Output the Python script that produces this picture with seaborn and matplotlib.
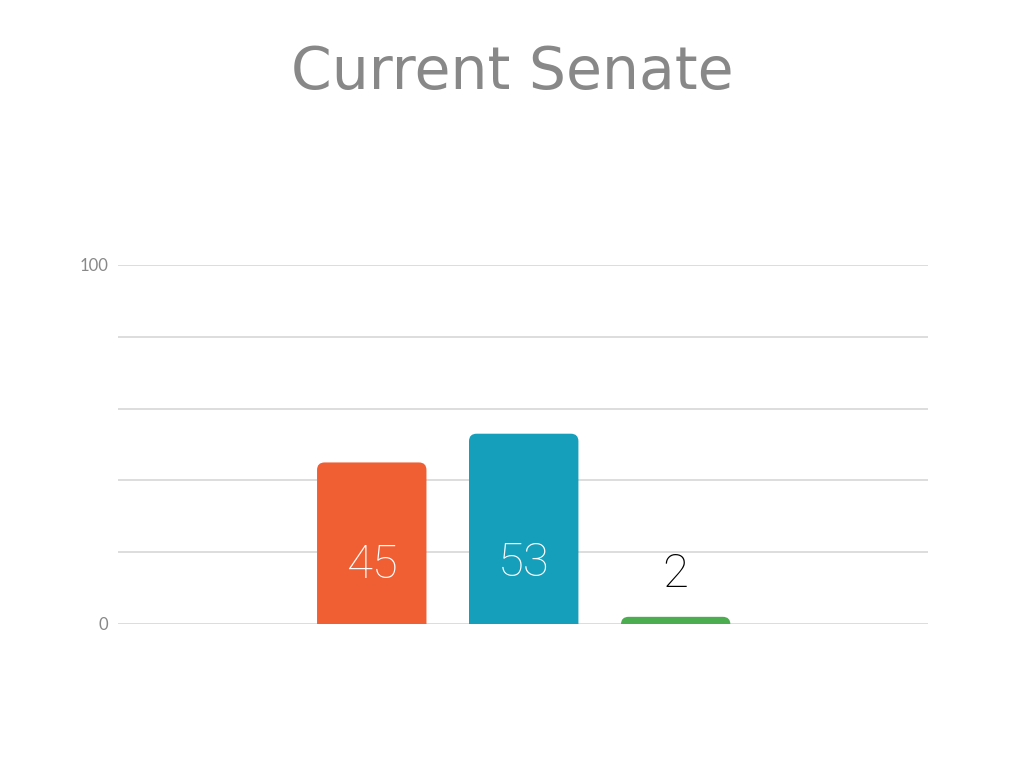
import matplotlib
matplotlib.use("Agg")
import matplotlib.pyplot as plt
import seaborn as sns
import pandas as pd
from matplotlib.patches import FancyBboxPatch

# data
parties = ["Democrats", "Republicans", "Independents"]
seats = [45, 53, 2]
colors = ["#F05F34", "#159FBB", "#4BAD4F"]
label_colors = ["white", "white", "black"]
label_y = [16.5, 17, 14]

sns.set_theme(style="white")
plt.rcParams['font.family'] = ['Lato', 'DejaVu Sans']

df = pd.DataFrame({"party": parties, "seats": seats})

fig = plt.figure(figsize=(10.24, 7.68), dpi=100)
ax = fig.add_axes([0.1152, 0.1875, 0.791, 0.4675])

sns.barplot(data=df, x="party", y="seats", hue="party", palette=colors,
            width=0.72, legend=False, ax=ax, saturation=1)

# swap plain bars for ones with rounded tops
rad_x = 0.05
aspect = 42
for patch, c in zip(list(ax.patches), colors):
    x0, w, h = patch.get_x(), patch.get_width(), patch.get_height()
    patch.set_visible(False)
    extra = rad_x * aspect
    rb = FancyBboxPatch((x0, -extra), w, h + extra,
                        boxstyle=f"round,pad=0,rounding_size={rad_x}",
                        mutation_aspect=aspect, facecolor=c, edgecolor="none",
                        zorder=3)
    ax.add_patch(rb)

for i, (v, lc, ly) in enumerate(zip(seats, label_colors, label_y)):
    ax.text(i, ly, str(v), ha="center", va="center", color=lc, fontsize=34,
            family=["Roboto", "DejaVu Sans"], fontweight=100,
            fontstretch="condensed", zorder=4)

ax.set_xlim(-1.67, 3.66)
ax.set_ylim(0, 100)
ax.set_yticks([0, 20, 40, 60, 80, 100])
ax.set_yticklabels(["0", "", "", "", "", "100"])
ax.tick_params(axis="y", length=0, pad=7, labelsize=12, labelcolor="#888888")
ax.set_xticks([])
ax.set_xlabel("")
ax.set_ylabel("")
ax.grid(axis="y", color="#dddddd", linewidth=1.4)
ax.set_axisbelow(True)
for s in ax.spines.values():
    s.set_visible(False)

fig.text(0.5, 0.905, "Current Senate", ha="center", va="center",
         fontsize=42, color="#888888", family="DejaVu Sans")

fig.savefig("out.png", dpi=100)
